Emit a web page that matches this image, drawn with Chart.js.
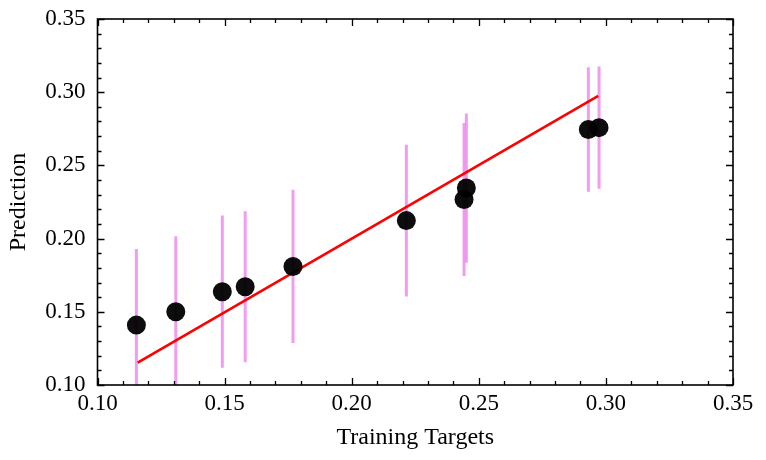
<!DOCTYPE html>
<html>
<head>
<meta charset="utf-8">
<script src="https://cdn.jsdelivr.net/npm/chart.js@4.4.1/dist/chart.umd.min.js"></script>
<style>
  html, body { margin: 0; padding: 0; background: #fff; }
  #wrap { width: 766px; height: 460px; }
</style>
</head>
<body>
<div id="wrap"><canvas id="canvas"></canvas></div>
<script>
// training targets vs predictions
const trainTargets = [0.1153, 0.1308, 0.1491, 0.1581, 0.1769, 0.2215, 0.2442, 0.2451, 0.2931, 0.2973];
const predictions  = [0.1409, 0.1500, 0.1637, 0.1671, 0.1810, 0.2123, 0.2267, 0.2345, 0.2745, 0.2758];
const predErrors   = [0.0520, 0.0516, 0.0520, 0.0516, 0.0523, 0.0518, 0.0523, 0.0510, 0.0425, 0.0418];
// red reference line (y = x over the target range)
const fitX = [0.1158, 0.2970];
const fitY = [0.1153, 0.2975];
const xTicks = [0.10, 0.15, 0.20, 0.25, 0.30, 0.35];
const yTicks = [0.10, 0.15, 0.20, 0.25, 0.30, 0.35];

const serif = 'Liberation Serif';

let errorSets = trainTargets.map(function(x, i) {
    return {
        type: 'line',
        data: [{ x: x, y: predictions[i] - predErrors[i] }, { x: x, y: predictions[i] + predErrors[i] }],
        borderColor: 'rgba(238, 130, 238, 0.8)',
        borderWidth: 3,
        pointRadius: 0,
        order: 3
    };
});

// inward ticks on all four sides plus the box
const frameTicks = {
    id: 'frameTicks',
    afterDraw(chart) {
        const ctx = chart.ctx;
        const a = chart.chartArea;
        const xs = chart.scales.x, ys = chart.scales.y;
        ctx.save();
        ctx.strokeStyle = '#000';
        ctx.lineWidth = 1.3;
        for (let k = 10; k <= 35; k++) {
            const major = k % 5 === 0;
            const len = major ? 7 : 4;
            const px = Math.round(xs.getPixelForValue(k / 100)) + 0.5;
            const py = Math.round(ys.getPixelForValue(k / 100)) + 0.5;
            ctx.beginPath();
            ctx.moveTo(px, a.bottom); ctx.lineTo(px, a.bottom - len);
            ctx.moveTo(px, a.top); ctx.lineTo(px, a.top + len);
            ctx.moveTo(a.left, py); ctx.lineTo(a.left + len, py);
            ctx.moveTo(a.right, py); ctx.lineTo(a.right - len, py);
            ctx.stroke();
        }
        ctx.lineWidth = 1.6;
        ctx.strokeRect(a.left, a.top, a.right - a.left, a.bottom - a.top);
        ctx.restore();
    }
};

const ctx = document.getElementById('canvas').getContext('2d');
window.myChart = new Chart(ctx, {
    type: 'scatter',
    data: {
        datasets: [
            {
                label: 'Prediction',
                data: trainTargets.map((x, i) => ({ x: x, y: predictions[i] })),
                backgroundColor: 'rgba(0, 0, 0, 0.95)',
                borderWidth: 0,
                pointRadius: 9.5,
                order: 1
            },
            {
                type: 'line',
                label: 'fit',
                data: fitX.map((x, i) => ({ x: x, y: fitY[i] })),
                borderColor: '#ff0000',
                borderWidth: 2.6,
                pointRadius: 0,
                order: 2
            }
        ].concat(errorSets)
    },
    options: {
        responsive: true,
        maintainAspectRatio: false,
        animation: false,
        layout: { autoPadding: false, padding: { left: 0, right: 33, top: 19, bottom: 0 } },
        plugins: {
            legend: { display: false },
            tooltip: { enabled: false }
        },
        scales: {
            x: {
                type: 'linear',
                min: 0.10,
                max: 0.35,
                afterBuildTicks: (s) => { s.ticks = xTicks.map(v => ({ value: v })); },
                afterFit: (s) => { s.height = 75; },
                // grid hidden; tickLength only spaces the labels off the axis
                grid: { display: false, drawTicks: true, tickLength: 5 },
                border: { display: false },
                ticks: {
                    padding: 0,
                    color: '#000',
                    font: { family: serif, size: 23 },
                    callback: (v) => v.toFixed(2)
                },
                title: {
                    display: true,
                    text: 'Training Targets',
                    color: '#000',
                    font: { family: serif, size: 24 },
                    padding: { top: 0, bottom: 8 }
                }
            },
            y: {
                type: 'linear',
                min: 0.10,
                max: 0.35,
                afterBuildTicks: (s) => { s.ticks = yTicks.map(v => ({ value: v })); },
                afterFit: (s) => { s.width = 97.5; },
                grid: { display: false, drawTicks: true, tickLength: 12 },
                border: { display: false },
                ticks: {
                    padding: 0,
                    color: '#000',
                    font: { family: serif, size: 23 },
                    callback: (v) => v.toFixed(2)
                },
                title: {
                    display: true,
                    text: 'Prediction',
                    color: '#000',
                    font: { family: serif, size: 24 },
                    padding: { top: 4, bottom: 0 }
                }
            }
        }
    },
    plugins: [frameTicks]
});
</script>
</body>
</html>
